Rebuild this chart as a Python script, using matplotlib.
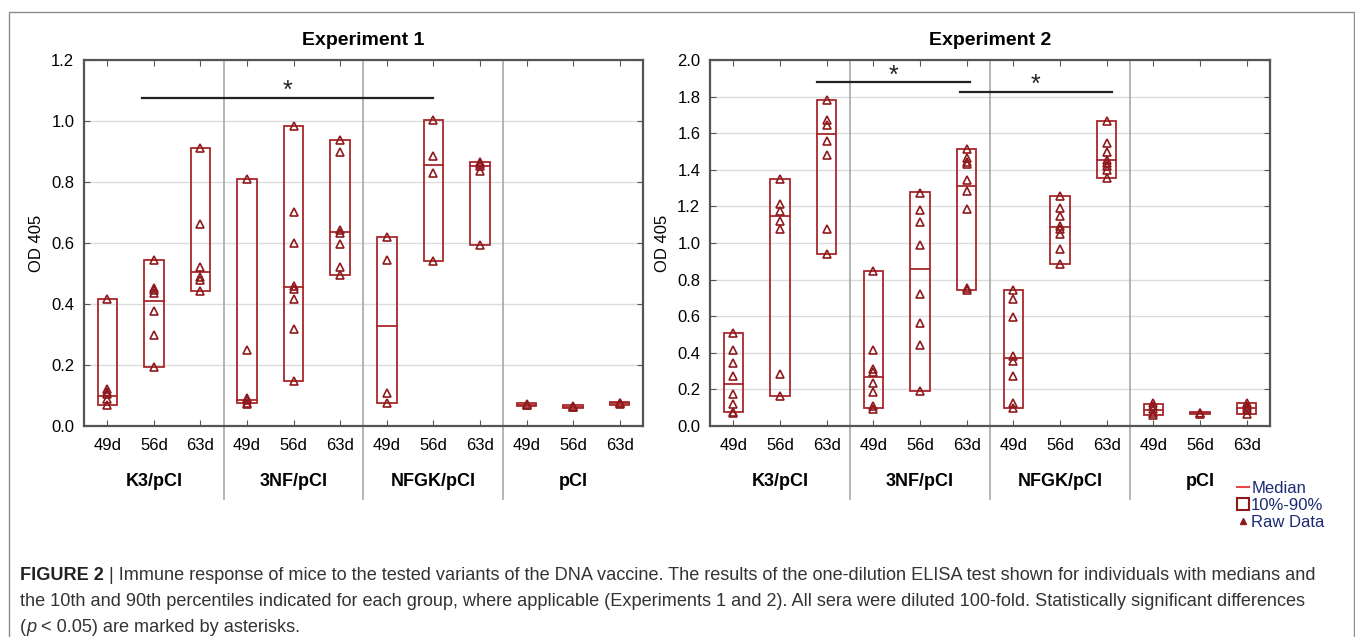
import numpy as np
import matplotlib.pyplot as plt
from matplotlib.patches import Rectangle, Patch
from matplotlib.lines import Line2D

plt.rcParams['font.family'] = ['Liberation Sans', 'DejaVu Sans']

# categories
days = ['49d', '56d', '63d']
groups = ['K3/pCI', '3NF/pCI', 'NFGK/pCI', 'pCI']
tick_labels = days * 4

# Experiment 1: raw OD405 values per group/day, and median / 10% / 90%
exp1_raw = [
    [0.417, 0.12, 0.11, 0.104, 0.087, 0.069],
    [0.545, 0.453, 0.445, 0.436, 0.376, 0.297, 0.194],
    [0.911, 0.662, 0.521, 0.489, 0.48, 0.442],
    [0.809, 0.249, 0.093, 0.085, 0.076, 0.071],
    [0.985, 0.701, 0.6, 0.458, 0.449, 0.417, 0.319, 0.147],
    [0.938, 0.897, 0.641, 0.633, 0.597, 0.521, 0.494],
    [0.619, 0.545, 0.107, 0.076],
    [1.004, 0.886, 0.831, 0.542],
    [0.867, 0.86, 0.853, 0.837, 0.592],
    [0.072, 0.070, 0.068],
    [0.064, 0.062, 0.063],
    [0.076, 0.074, 0.071],
]
exp1_med = [0.098, 0.409, 0.505, 0.085, 0.455, 0.635, 0.327, 0.856, 0.851, 0.070, 0.063, 0.074]
exp1_p10 = [0.069, 0.194, 0.442, 0.076, 0.147, 0.494, 0.076, 0.542, 0.592, 0.065, 0.060, 0.068]
exp1_p90 = [0.417, 0.545, 0.911, 0.809, 0.985, 0.938, 0.619, 1.004, 0.864, 0.076, 0.068, 0.079]

# Experiment 2
exp2_raw = [
    [0.509, 0.418, 0.342, 0.273, 0.176, 0.122, 0.078, 0.073],
    [1.349, 1.213, 1.173, 1.118, 1.076, 0.285, 0.164],
    [1.78, 1.673, 1.645, 1.555, 1.482, 1.076, 0.94],
    [0.849, 0.418, 0.309, 0.295, 0.236, 0.185, 0.109, 0.095],
    [1.273, 1.182, 1.115, 0.987, 0.724, 0.564, 0.445, 0.191],
    [1.515, 1.467, 1.445, 1.433, 1.345, 1.285, 1.187, 0.755, 0.745],
    [0.745, 0.695, 0.596, 0.385, 0.355, 0.273, 0.127, 0.1],
    [1.255, 1.191, 1.145, 1.091, 1.076, 1.051, 0.967, 0.885],
    [1.667, 1.549, 1.5, 1.451, 1.436, 1.422, 1.4, 1.355],
    [0.125, 0.109, 0.091, 0.073, 0.06],
    [0.072, 0.070, 0.068],
    [0.128, 0.11, 0.10, 0.085, 0.068],
]
exp2_med = [0.227, 1.145, 1.598, 0.269, 0.86, 1.313, 0.373, 1.085, 1.455, 0.087, 0.070, 0.100]
exp2_p10 = [0.078, 0.164, 0.94, 0.096, 0.191, 0.745, 0.096, 0.885, 1.355, 0.060, 0.066, 0.068]
exp2_p90 = [0.509, 1.349, 1.78, 0.849, 1.276, 1.515, 0.745, 1.258, 1.667, 0.122, 0.074, 0.125]

# significance bars: (x start, x end, y)
exp1_sig = [(1.75, 8.0, 1.075)]
exp2_sig = [(2.8, 6.07, 1.878), (5.86, 9.11, 1.824)]

box_c = '#a8282c'
mark_c = '#8e1a1e'

W, H = 1355, 637
fig = plt.figure(figsize=(W / 100, H / 100), dpi=100)


def panel(left, right, raw, med, p10, p90, sig, ymax, title):
    ax = fig.add_axes([left / W, 1 - 426 / H, (right - left) / W, 366 / H])
    x = np.arange(1, 13)
    bw = 0.42
    for i in range(12):
        ax.add_patch(Rectangle((x[i] - bw / 2, p10[i]), bw, p90[i] - p10[i],
                               facecolor='none', edgecolor=box_c, lw=1.3, zorder=3))
        ax.plot([x[i] - bw / 2, x[i] + bw / 2], [med[i], med[i]], color=box_c, lw=1.3, zorder=3)
        ax.plot([x[i]] * len(raw[i]), raw[i], ls='', marker='^', markersize=5.5,
                markerfacecolor='none', markeredgecolor=mark_c, markeredgewidth=1.2, zorder=4)
    for x0, x1, y in sig:
        ax.plot([x0, x1], [y, y], color='#222222', lw=1.6, zorder=5)
        ax.annotate('*', ((x0 + x1) / 2, y), xytext=(0, 5), textcoords='offset points',
                    ha='center', va='center', fontsize=18, color='#222222')
    ax.set_xlim(0.5, 12.5)
    ax.set_ylim(0, ymax)
    ax.set_yticks(np.arange(0, ymax + 0.01, 0.2))
    ax.set_yticklabels(['%.1f' % v for v in np.arange(0, ymax + 0.01, 0.2)])
    ax.set_xticks(x)
    ax.set_xticklabels(tick_labels)
    ax.tick_params(axis='x', direction='in', length=4, top=True, bottom=True,
                   pad=9, labelsize=12, color='#555555')
    ax.tick_params(axis='y', direction='in', length=4, left=True, right=True,
                   pad=7, labelsize=12, color='#555555')
    ax.yaxis.grid(True, color='#dcdcdc', lw=1)
    ax.set_axisbelow(True)
    for s in ax.spines.values():
        s.set_color('#555555')
        s.set_linewidth(1.6)
    for sx in [3.5, 6.5, 9.5]:
        ax.axvline(sx, ymin=-0.2, ymax=1, color='#a8a8a8', lw=1.2, clip_on=False, zorder=1)
    for g, name in enumerate(groups):
        ax.text(2 + 3 * g, -0.152, name, transform=ax.get_xaxis_transform(),
                ha='center', va='center', fontweight='bold', fontsize=13)
    ax.set_ylabel('OD 405', fontsize=12, labelpad=5)
    ax.set_title(title, fontweight='bold', fontsize=14, pad=11)
    return ax


panel(84, 643, exp1_raw, exp1_med, exp1_p10, exp1_p90, exp1_sig, 1.2, 'Experiment 1')
panel(710, 1270, exp2_raw, exp2_med, exp2_p10, exp2_p90, exp2_sig, 2.0, 'Experiment 2')

# legend
handles = [Line2D([0], [0], color='#e8474a', lw=1.5),
           Patch(facecolor='white', edgecolor=mark_c, lw=1.5),
           Line2D([0], [0], ls='', marker='^', color=mark_c, markersize=4)]
fig.legend(handles, ['Median', '10%-90%', 'Raw Data'], loc='upper left',
           bbox_to_anchor=(1237 / W, 1 - 481 / H), frameon=False, fontsize=12,
           labelcolor='#1c2a73', handlelength=0.7, handletextpad=0.15,
           labelspacing=0.12, borderpad=0, borderaxespad=0)

# outer frame
fig.add_artist(Line2D([9 / W, 9 / W, 1354 / W, 1354 / W], [0, 1 - 12 / H, 1 - 12 / H, 0],
                      transform=fig.transFigure, color='#8c8c8c', lw=1))

# caption
renderer = fig.canvas.get_renderer()


def caption_line(y, parts):
    xpos = 20
    for txt, kw in parts:
        style = dict(va='center', ha='left', fontsize=13.1, color='#333333')
        style.update(kw)
        t = fig.text(xpos / W, 1 - y / H, txt, **style)
        xpos = t.get_window_extent(renderer=renderer).x1


caption_line(575, [('FIGURE 2', {'fontweight': 'bold', 'color': '#222222'}),
                   (' | Immune response of mice to the tested variants of the DNA vaccine. '
                    'The results of the one-dilution ELISA test shown for individuals with medians and', {})])
caption_line(601, [('the 10th and 90th percentiles indicated for each group, where applicable '
                    '(Experiments 1 and 2). All sera were diluted 100-fold. Statistically significant differences', {})])
caption_line(627, [('(', {}), ('p', {'style': 'italic'}), (' < 0.05) are marked by asterisks.', {})])

fig.savefig('out.png', dpi=100)
